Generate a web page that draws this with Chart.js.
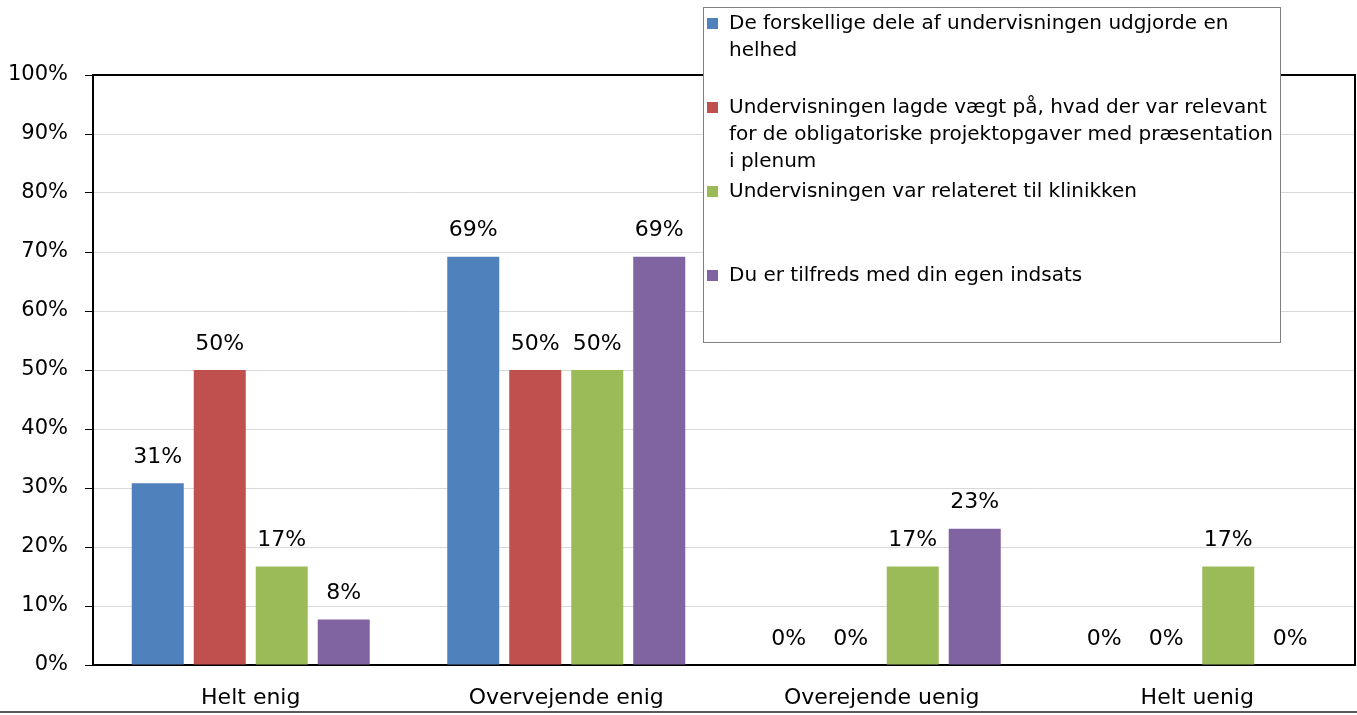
<!DOCTYPE html>
<html>
<head>
<meta charset="utf-8">
<script src="https://cdn.jsdelivr.net/npm/chart.js@4"></script>
<style>
  html, body { margin: 0; padding: 0; background: #fff; }
  #wrap { position: relative; width: 1357px; height: 715px; overflow: hidden; }
  #legend { position: absolute; left: 703px; top: 7px; width: 576px; height: 334px;
    border: 1px solid #808080; background: #fff; font-family: "DejaVu Sans", sans-serif; font-size: 20px; color: #000; }
  .item { position: absolute; left: 3px; width: 570px; }
  .sw { position: absolute; left: 0; top: 9px; width: 11px; height: 11px; }
  .txt { position: absolute; left: 22px; width: 553px; line-height: 27px; }
  #bottomline { position: absolute; left: 0; top: 711px; width: 1357px; height: 2px; background: #595959; }
</style>
</head>
<body>
<div id="wrap">
  <canvas id="c" width="1357" height="715"></canvas>
  <div id="legend"></div>
  <div id="bottomline"></div>
</div>
<script>
const categories = ["Helt enig", "Overvejende enig", "Overejende uenig", "Helt uenig"];
const seriesNames = [
  "De forskellige dele af undervisningen udgjorde en helhed",
  "Undervisningen lagde vægt på, hvad der var relevant for de obligatoriske projektopgaver med præsentation i plenum",
  "Undervisningen var relateret til klinikken",
  "Du er tilfreds med din egen indsats"
];
const helhed = [30.8, 69.2, 0, 0];
const projektopgaver = [50, 50, 0, 0];
const klinikken = [16.7, 50, 16.7, 16.7];
const indsats = [7.7, 69.2, 23.1, 0];
const seriesColors = ["#4F81BD", "#C0504D", "#9BBB59", "#8064A2"];
const yTicks = [0, 10, 20, 30, 40, 50, 60, 70, 80, 90, 100];

const FONT = "'DejaVu Sans', sans-serif";
const seriesValues = [helhed, projektopgaver, klinikken, indsats];

const dataLabels = {
  id: 'dataLabels',
  afterDatasetsDraw(chart) {
    const ctx = chart.ctx;
    ctx.save();
    ctx.font = "22px " + FONT;
    ctx.fillStyle = "#000";
    ctx.textAlign = "center";
    ctx.textBaseline = "middle";
    chart.data.datasets.forEach((ds, i) => {
      const meta = chart.getDatasetMeta(i);
      meta.data.forEach((bar, j) => {
        ctx.fillText(Math.round(ds.data[j]) + "%", bar.x, bar.y - 26);
      });
    });
    ctx.restore();
  }
};
const frame = {
  id: 'frame',
  afterDraw(chart) {
    const a = chart.chartArea, ctx = chart.ctx;
    ctx.save();
    ctx.strokeStyle = "#000";
    ctx.lineWidth = 2;
    ctx.beginPath();
    ctx.moveTo(a.left, a.top);
    ctx.lineTo(a.right, a.top);
    ctx.lineTo(a.right, a.bottom);
    ctx.stroke();
    ctx.restore();
  }
};

new Chart(document.getElementById('c'), {
  type: 'bar',
  data: {
    labels: categories,
    datasets: seriesNames.map((n, i) => ({
      label: n, data: seriesValues[i], backgroundColor: seriesColors[i],
      borderWidth: 0, categoryPercentage: 0.786, barPercentage: 0.839
    }))
  },
  options: {
    responsive: false,
    devicePixelRatio: 1,
    animation: false,
    layout: { padding: { top: 75, right: 2, left: 0, bottom: 0 } },
    plugins: { legend: { display: false }, tooltip: { enabled: false } },
    scales: {
      y: {
        min: 0, max: 100,
        afterBuildTicks(s) { s.ticks = yTicks.map(v => ({ value: v })); },
        afterFit(s) { s.width = 93; },
        ticks: { callback: v => v + "%", font: { family: FONT, size: 21 }, color: "#000", padding: 17 },
        grid: { color: "#d9d9d9", tickColor: "#000", tickLength: 8, lineWidth: 1 },
        border: { color: "#000", width: 2 }
      },
      x: {
        afterFit(s) { s.height = 50; },
        ticks: { font: { family: FONT, size: 22 }, color: "#000", padding: 20 },
        grid: { display: false, drawTicks: false },
        border: { color: "#000", width: 2 }
      }
    }
  },
  plugins: [dataLabels, frame]
});

const legend = document.getElementById('legend');
seriesNames.forEach((n, i) => {
  const it = document.createElement('div');
  it.className = 'item';
  it.style.top = (1 + 84 * i) + 'px';
  const sw = document.createElement('div');
  sw.className = 'sw';
  sw.style.background = seriesColors[i];
  const t = document.createElement('div');
  t.className = 'txt';
  t.textContent = n;
  it.appendChild(sw); it.appendChild(t);
  legend.appendChild(it);
});
</script>
</body>
</html>
